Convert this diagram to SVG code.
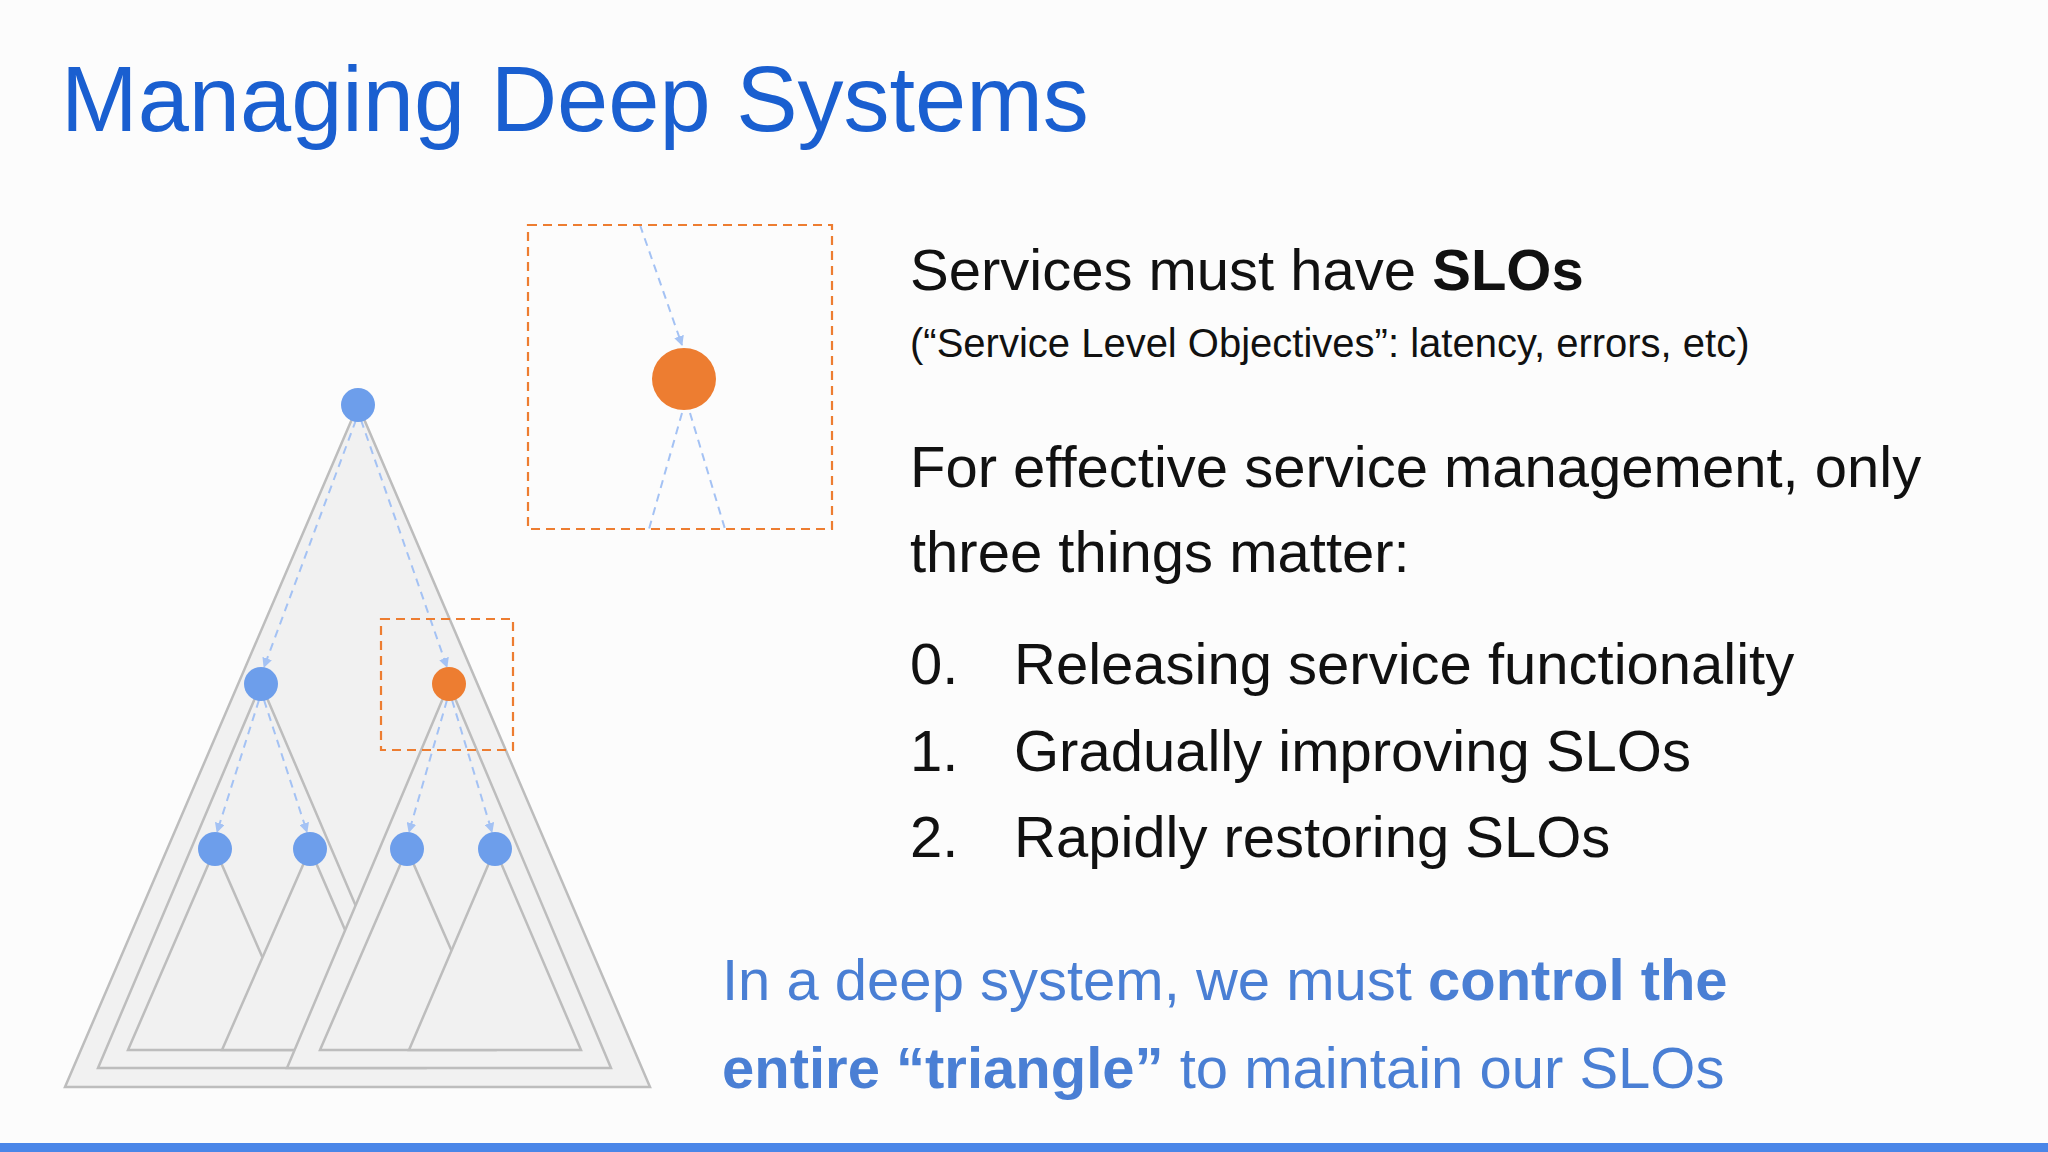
<svg xmlns="http://www.w3.org/2000/svg" width="2048" height="1152" viewBox="0 0 2048 1152">
<defs>
<style>
.tri{fill:#f1f1f1;stroke:#bdbdbd;stroke-width:2.5}
.bn{fill:#6d9eeb}
.on{fill:#ed7d31}
.da{stroke:#a4c2f4;stroke-width:2;stroke-dasharray:8 6;fill:none}
.box{fill:none;stroke:#ed7d31;stroke-width:2.2;stroke-dasharray:9 6}
.t{font-family:"Liberation Sans",Arial,sans-serif;fill:#111}
.b{font-family:"Liberation Sans",Arial,sans-serif;fill:#4a7fd4}
</style>
<marker id="ah" markerWidth="10" markerHeight="10" refX="9" refY="5" orient="auto" markerUnits="userSpaceOnUse"><path d="M0,0 L10,5 L0,10 z" fill="#a4c2f4"/></marker>
</defs>
<rect width="2048" height="1152" fill="#fcfcfc"/>
<text class="t" x="61" y="131" font-size="92" style="fill:#1a5fd0">Managing Deep Systems</text>
<g id="triangles">
<polygon class="tri" points="358,405 65,1087 650,1087"/>
<polygon class="tri" points="261,684 98,1068 425,1068"/>
<polygon class="tri" points="215,849 128,1050 303,1050"/>
<polygon class="tri" points="310,849 222,1050 397,1050"/>
<polygon class="tri" points="449,684 287,1068 611,1068"/>
<polygon class="tri" points="407,849 320,1050 495,1050"/>
<polygon class="tri" points="495,849 409,1050 581,1050"/>
</g>
<g id="connectors">
<line class="da" x1="356" y1="420" x2="264" y2="667" marker-end="url(#ah)"/>
<line class="da" x1="361" y1="420" x2="447" y2="667" marker-end="url(#ah)"/>
<line class="da" x1="259" y1="700" x2="217" y2="832" marker-end="url(#ah)"/>
<line class="da" x1="264" y1="700" x2="307" y2="832" marker-end="url(#ah)"/>
<line class="da" x1="447" y1="700" x2="409" y2="832" marker-end="url(#ah)"/>
<line class="da" x1="452" y1="700" x2="492" y2="832" marker-end="url(#ah)"/>
<line class="da" x1="640" y1="225" x2="682" y2="345" marker-end="url(#ah)"/>
<line class="da" x1="682" y1="413" x2="649" y2="529"/>
<line class="da" x1="690" y1="413" x2="725" y2="529"/>
</g>
<g id="n-top"><circle class="bn" cx="358" cy="405" r="17"/></g>
<g id="n-mid-l"><circle class="bn" cx="261" cy="684" r="17"/></g>
<g id="n-mid-r"><circle class="on" cx="449" cy="684" r="17"/></g>
<g id="n-leaf1"><circle class="bn" cx="215" cy="849" r="17"/></g>
<g id="n-leaf2"><circle class="bn" cx="310" cy="849" r="17"/></g>
<g id="n-leaf3"><circle class="bn" cx="407" cy="849" r="17"/></g>
<g id="n-leaf4"><circle class="bn" cx="495" cy="849" r="17"/></g>
<g id="small-box"><rect class="box" x="381" y="619" width="132" height="131"/></g>
<g id="inset"><rect class="box" x="528" y="225" width="304" height="304"/><ellipse class="on" cx="684" cy="379" rx="32" ry="31"/></g>
<g id="text">
<text class="t" x="910" y="290" font-size="58">Services must have <tspan font-weight="bold">SLOs</tspan></text>
<text class="t" x="910" y="357" font-size="40">(“Service Level Objectives”: latency, errors, etc)</text>
<text class="t" x="910" y="487" font-size="58">For effective service management, only</text>
<text class="t" x="910" y="572" font-size="58">three things matter:</text>
<text class="t" x="910" y="684" font-size="58">0.</text><text class="t" x="1014" y="684" font-size="58">Releasing service functionality</text>
<text class="t" x="910" y="771" font-size="58">1.</text><text class="t" x="1014" y="771" font-size="58">Gradually improving SLOs</text>
<text class="t" x="910" y="857" font-size="58">2.</text><text class="t" x="1014" y="857" font-size="58">Rapidly restoring SLOs</text>
<text class="b" x="722" y="1000" font-size="58">In a deep system, we must <tspan font-weight="bold">control the</tspan></text>
<text class="b" x="722" y="1088" font-size="58"><tspan font-weight="bold">entire “triangle”</tspan> to maintain our SLOs</text>
</g>
<rect x="0" y="1143" width="2048" height="9" fill="#4a86e8"/>
</svg>
